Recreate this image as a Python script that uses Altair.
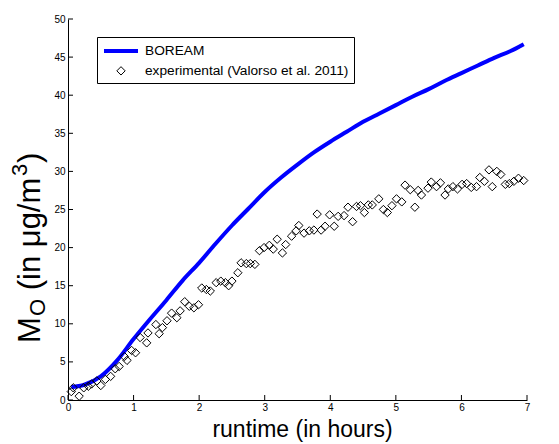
import altair as alt
import pandas as pd

series_names = ["BOREAM", "experimental (Valorso et al. 2011)"]

model_t = [0.05, 0.25, 0.5, 0.75, 1.0, 1.25, 1.5, 1.75, 2.0, 2.25, 2.5, 2.75, 3.0, 3.25,
           3.5, 3.75, 4.0, 4.25, 4.5, 4.75, 5.0, 5.25, 5.5, 5.75, 6.0, 6.25, 6.5, 6.75, 6.95]
model_v = [1.7, 2.0, 3.1, 5.2, 8.0, 10.6, 13.1, 15.7, 18.0, 20.5, 22.9, 25.1, 27.3, 29.2,
           30.9, 32.5, 33.9, 35.2, 36.5, 37.6, 38.7, 39.8, 40.8, 41.9, 42.9, 43.9, 44.9, 45.8, 46.7]

exp_t = [0.05, 0.08, 0.17, 0.24, 0.31, 0.36, 0.44, 0.50, 0.57, 0.65, 0.72, 0.78, 0.86, 0.90,
         0.97, 1.03, 1.10, 1.20, 1.22, 1.34, 1.39, 1.44, 1.51, 1.58, 1.66, 1.71, 1.78, 1.85,
         1.92, 1.99, 2.04, 2.11, 2.17, 2.26, 2.33, 2.40, 2.45, 2.50, 2.59, 2.64, 2.72, 2.78,
         2.85, 2.92, 2.99, 3.07, 3.13, 3.19, 3.27, 3.32, 3.41, 3.48, 3.52, 3.60, 3.68, 3.75,
         3.80, 3.86, 3.92, 3.99, 4.06, 4.12, 4.21, 4.27, 4.34, 4.40, 4.46, 4.52, 4.58, 4.64,
         4.74, 4.81, 4.87, 4.94, 5.01, 5.09, 5.14, 5.22, 5.29, 5.34, 5.39, 5.49, 5.54, 5.62,
         5.68, 5.75, 5.80, 5.87, 5.94, 6.01, 6.08, 6.15, 6.23, 6.28, 6.35, 6.42, 6.47, 6.54,
         6.60, 6.67, 6.73, 6.80, 6.87, 6.95]
exp_v = [1.1, 1.6, 0.5, 1.6, 1.8, 2.1, 2.5, 1.9, 2.7, 3.1, 4.1, 4.4, 5.7, 5.2,
         6.5, 6.2, 8.2, 7.5, 8.8, 9.9, 8.7, 9.5, 10.4, 11.4, 10.8, 11.7, 12.9, 12.3,
         12.1, 12.5, 14.7, 14.5, 14.3, 15.4, 15.6, 15.4, 15.0, 15.6, 16.7, 18.0, 17.9, 17.9,
         17.8, 19.6, 20.0, 20.3, 19.8, 21.1, 19.3, 20.4, 21.5, 22.2, 22.9, 21.9, 22.2, 22.3,
         24.4, 22.3, 22.8, 24.3, 22.8, 24.1, 24.2, 25.3, 23.4, 25.4, 25.5, 24.6, 25.6, 25.6,
         26.4, 25.0, 24.6, 25.5, 26.4, 26.0, 28.2, 27.6, 25.3, 27.5, 26.9, 27.8, 28.6, 28.0,
         28.5, 26.9, 27.7, 28.0, 27.7, 28.3, 28.4, 27.9, 28.0, 29.2, 28.7, 30.2, 28.0, 30.0,
         29.6, 28.3, 28.4, 28.7, 29.1, 28.8]

x_ticks = [0, 1, 2, 3, 4, 5, 6, 7]
y_ticks = [0, 5, 10, 15, 20, 25, 30, 35, 40, 45, 50]

model_df = pd.DataFrame({"t": model_t, "v": model_v, "series": series_names[0]})
exp_df = pd.DataFrame({"t": exp_t, "v": exp_v, "series": series_names[1]})
xt_df = pd.DataFrame({"t": x_ticks})
yt_df = pd.DataFrame({"v": y_ticks})
one = pd.DataFrame({"k": [0]})

W, H = 459, 381
FONT = "Liberation Sans"

x_scale = alt.Scale(domain=[0, 7], nice=False, zero=False)
y_scale = alt.Scale(domain=[0, 50], nice=False)
color_scale = alt.Scale(domain=series_names, range=["#0000ff", "#000000"])
sw_scale = alt.Scale(domain=series_names, range=[4, 1])
shape_scale = alt.Scale(domain=series_names, range=["M-2.5,0L2.5,0", "diamond"])
size_scale = alt.Scale(domain=series_names, range=[185, 70])

legend = alt.Legend(
    title=None, orient="none", legendX=29, legendY=18,
    strokeColor="black", fillColor="white", padding=5, cornerRadius=0,
    labelFont=FONT, labelFontSize=13.7, labelColor="black", labelOffset=15,
    labelLimit=500, rowPadding=4, symbolOffset=10,
)

x_axis = alt.Axis(
    values=x_ticks, ticks=False, grid=False, domainColor="black", domainWidth=1,
    labelFont=FONT, labelFontSize=10, labelColor="black", labelPadding=2,
    labelFlush=False, labelOverlap=False, format="d",
    title="runtime (in hours)", titleFont=FONT, titleFontSize=23,
    titleFontWeight="normal", titleColor="black", titleY=36, titleX=234,
    titleBaseline="alphabetic",
)
y_axis = alt.Axis(
    values=y_ticks, ticks=False, grid=False, domainColor="black", domainWidth=1,
    labelFont=FONT, labelFontSize=10, labelColor="black", labelPadding=3,
    labelFlush=False, labelOverlap=False, format="d", title="",
)

line = alt.Chart(model_df).mark_line(interpolate="monotone", strokeCap="butt").encode(
    x=alt.X("t:Q", scale=x_scale, axis=x_axis),
    y=alt.Y("v:Q", scale=y_scale, axis=y_axis),
    color=alt.Color("series:N", scale=color_scale, legend=legend),
    strokeWidth=alt.StrokeWidth("series:N", scale=sw_scale, legend=legend),
)

points = alt.Chart(exp_df).mark_point(filled=False, opacity=1).encode(
    x=alt.X("t:Q", scale=x_scale, axis=x_axis),
    y=alt.Y("v:Q", scale=y_scale, axis=y_axis),
    color=alt.Color("series:N", scale=color_scale, legend=legend),
    shape=alt.Shape("series:N", scale=shape_scale, legend=legend),
    size=alt.Size("series:N", scale=size_scale, legend=legend),
    strokeWidth=alt.StrokeWidth("series:N", scale=sw_scale, legend=legend),
)

xticks = alt.Chart(xt_df).mark_rule(color="black", strokeWidth=1).encode(
    x=alt.X("t:Q", scale=x_scale, axis=x_axis), y=alt.value(H), y2=alt.value(H - 5)
)
yticks = alt.Chart(yt_df).mark_rule(color="black", strokeWidth=1).encode(
    y=alt.Y("v:Q", scale=y_scale, axis=y_axis), x=alt.value(0), x2=alt.value(5)
)


def piece(txt, size, xpos, ypos):
    return alt.Chart(one).mark_text(
        angle=270, align="left", baseline="alphabetic", font=FONT,
        fontSize=size, color="black",
    ).encode(x=alt.value(xpos), y=alt.value(ypos), text=alt.value(txt))


F, FS = 31, 22
ytitle = [
    piece("M", F, -28, 324),
    piece("O", FS, -23, 297),
    piece("(in \u03bcg/m", F, -28, 271.3),
    piece("3", FS, -41, 157),
    piece(")", F, -28, 144),
]

chart = alt.layer(line, points, xticks, yticks, *ytitle).properties(
    width=W, height=H,
    autosize=alt.AutoSizeParams(type="none"),
    padding={"left": 68, "top": 19, "right": 32, "bottom": 44},
    background="white",
).configure_view(stroke=None)

chart.save("out.html", embed_options={"renderer": "svg", "actions": False})
